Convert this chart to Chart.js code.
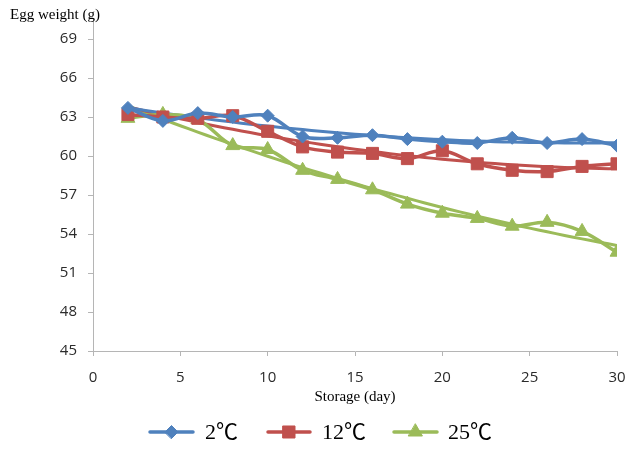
<!DOCTYPE html>
<html>
<head>
<meta charset="utf-8">
<script src="https://cdn.jsdelivr.net/npm/chart.js@4/dist/chart.umd.min.js"></script>
<style>
  html, body { margin: 0; padding: 0; background: #fff; }
  #wrap { width: 627px; height: 449px; position: relative; }
</style>
</head>
<body>
<div id="wrap"><canvas id="c" width="627" height="449"></canvas></div>
<script>
// Storage days and egg weights (g) for each storage temperature
const days = [2, 4, 6, 8, 10, 12, 14, 16, 18, 20, 22, 24, 26, 28, 30];
const weight2C  = [63.7, 62.7, 63.3, 63.0, 63.1, 61.5, 61.4, 61.6, 61.3, 61.1, 61.0, 61.4, 61.0, 61.3, 60.8];
const weight12C = [63.2, 63.0, 62.9, 63.1, 61.9, 60.7, 60.3, 60.2, 59.8, 60.4, 59.4, 58.9, 58.8, 59.2, 59.4];
const weight25C = [62.9, 63.2, 62.8, 60.8, 60.5, 58.9, 58.2, 57.4, 56.3, 55.6, 55.2, 54.6, 54.9, 54.2, 52.6];
const seriesNames = ['2\u2103', '12\u2103', '25\u2103'];
const yTicks = [45, 48, 51, 54, 57, 60, 63, 66, 69];
const xTicks = [0, 5, 10, 15, 20, 25, 30];

const colors = ['#4F81BD', '#C0504D', '#9BBB59'];
const markers = [
  { style: 'rectRot', radius: 6.5 },
  { style: 'rect', radius: 8.5 },
  { style: 'triangle', radius: 8 }
];

// Second-order polynomial least-squares trend, sampled across the measured span
function quadraticTrend(xs, ys) {
  const n = xs.length;
  const mx = xs.reduce((s, v) => s + v, 0) / n;
  const my = ys.reduce((s, v) => s + v, 0) / n;
  const u = xs.map(v => v - mx);
  const mu2 = u.reduce((s, v) => s + v * v, 0) / n;
  const w = u.map(v => v * v - mu2);
  let suu = 0, sww = 0, suw = 0, suy = 0, swy = 0;
  for (let i = 0; i < n; i++) {
    const dy = ys[i] - my;
    suu += u[i] * u[i]; sww += w[i] * w[i]; suw += u[i] * w[i];
    suy += u[i] * dy; swy += w[i] * dy;
  }
  const det = suu * sww - suw * suw;
  const b = (suy * sww - swy * suw) / det;
  const c = (swy * suu - suy * suw) / det;
  const f = x => { const d = x - mx; return my + b * d + c * (d * d - mu2); };
  const pts = [];
  const x0 = xs[0], x1 = xs[n - 1];
  for (let x = x0; x <= x1 + 1e-9; x += 0.5) pts.push({ x, y: f(x) });
  return pts;
}

const seriesValues = [weight2C, weight12C, weight25C];

const datasets = [];
seriesValues.forEach((vals, i) => {
  datasets.push({
    label: seriesNames[i],
    data: days.map((d, k) => ({ x: d, y: vals[k] })),
    borderColor: colors[i],
    backgroundColor: colors[i],
    borderWidth: 3.5,
    tension: 0.35,
    pointStyle: markers[i].style,
    pointRadius: markers[i].radius,
    pointBorderWidth: 1,
    pointBackgroundColor: colors[i],
    pointBorderColor: colors[i],
    order: 1
  });
});
seriesValues.forEach((vals, i) => {
  datasets.push({
    label: seriesNames[i] + ' trend',
    data: quadraticTrend(days, vals),
    borderColor: colors[i],
    borderWidth: 3,
    tension: 0,
    pointRadius: 0,
    order: 2
  });
});

const AXIS_COLOR = '#b5b5b5';
const TEXT_COLOR = '#2b2b2b';

// Axis titles, the short axis extension above the plot, and the legend
const decorations = {
  id: 'decorations',
  afterDraw(chart) {
    const ctx = chart.ctx;
    const area = chart.chartArea;
    ctx.save();
    // y axis line continues a little above the top tick
    ctx.strokeStyle = AXIS_COLOR;
    ctx.lineWidth = 1;
    ctx.beginPath();
    ctx.moveTo(area.left + 0.5, 18);
    ctx.lineTo(area.left + 0.5, area.top);
    ctx.stroke();

    ctx.fillStyle = '#000';
    ctx.font = '15px "Liberation Serif", "Times New Roman", serif';
    ctx.textBaseline = 'middle';
    ctx.textAlign = 'left';
    ctx.fillText('Egg weight (g)', 10, 15);
    ctx.textAlign = 'center';
    ctx.fillText('Storage (day)', (area.left + area.right) / 2, 397);

    // legend: line sample with marker, then label
    const entries = [
      { x0: 150, x1: 193, tx: 205 },
      { x0: 268, x1: 310, tx: 322 },
      { x0: 394, x1: 437, tx: 448 }
    ];
    const ly = 432;
    entries.forEach((e, i) => {
      ctx.strokeStyle = colors[i];
      ctx.lineWidth = 3.5;
      ctx.lineCap = 'round';
      ctx.beginPath();
      ctx.moveTo(e.x0, ly);
      ctx.lineTo(e.x1, ly);
      ctx.stroke();
      ctx.fillStyle = colors[i];
      ctx.strokeStyle = colors[i];
      ctx.lineWidth = 1;
      Chart.helpers.drawPoint(ctx, { pointStyle: markers[i].style, radius: markers[i].radius, rotation: 0, borderWidth: 1 },
        (e.x0 + e.x1) / 2, ly);
      ctx.fillStyle = '#000';
      ctx.font = '22px "Liberation Serif", "Noto Sans CJK KR", serif';
      ctx.textAlign = 'left';
      ctx.fillText(seriesNames[i], e.tx, ly + 1);
    });
    ctx.restore();
  }
};

new Chart(document.getElementById('c'), {
  type: 'line',
  data: { datasets },
  options: {
    responsive: false,
    animation: false,
    events: [],
    layout: { padding: { left: 0, top: 39, right: 10, bottom: 0 } },
    plugins: { legend: { display: false }, tooltip: { enabled: false } },
    scales: {
      x: {
        type: 'linear',
        min: 0, max: 30,
        afterBuildTicks(scale) { scale.ticks = xTicks.map(v => ({ value: v })); },
        afterFit(scale) {
          scale.height = 98;
          scale.paddingLeft = 0;
          scale.paddingRight = 0;
        },
        border: { display: true, color: AXIS_COLOR, width: 1 },
        grid: { display: true, drawOnChartArea: false, drawTicks: true, tickLength: 5, color: AXIS_COLOR },
        ticks: {
          color: TEXT_COLOR,
          padding: 13,
          maxRotation: 0,
          font: { family: '"Open Sans", "Noto Sans", sans-serif', size: 15 }
        }
      },
      y: {
        type: 'linear',
        min: 45, max: 69,
        afterBuildTicks(scale) { scale.ticks = yTicks.map(v => ({ value: v })); },
        afterFit(scale) {
          scale.width = 93;
          scale.paddingTop = 0;
          scale.paddingBottom = 0;
        },
        border: { display: true, color: AXIS_COLOR, width: 1 },
        grid: { display: true, drawOnChartArea: false, drawTicks: true, tickLength: 5, color: AXIS_COLOR },
        ticks: {
          color: TEXT_COLOR,
          padding: 11,
          font: { family: '"Open Sans", "Noto Sans", sans-serif', size: 15 }
        }
      }
    }
  },
  plugins: [decorations]
});
</script>
</body>
</html>
